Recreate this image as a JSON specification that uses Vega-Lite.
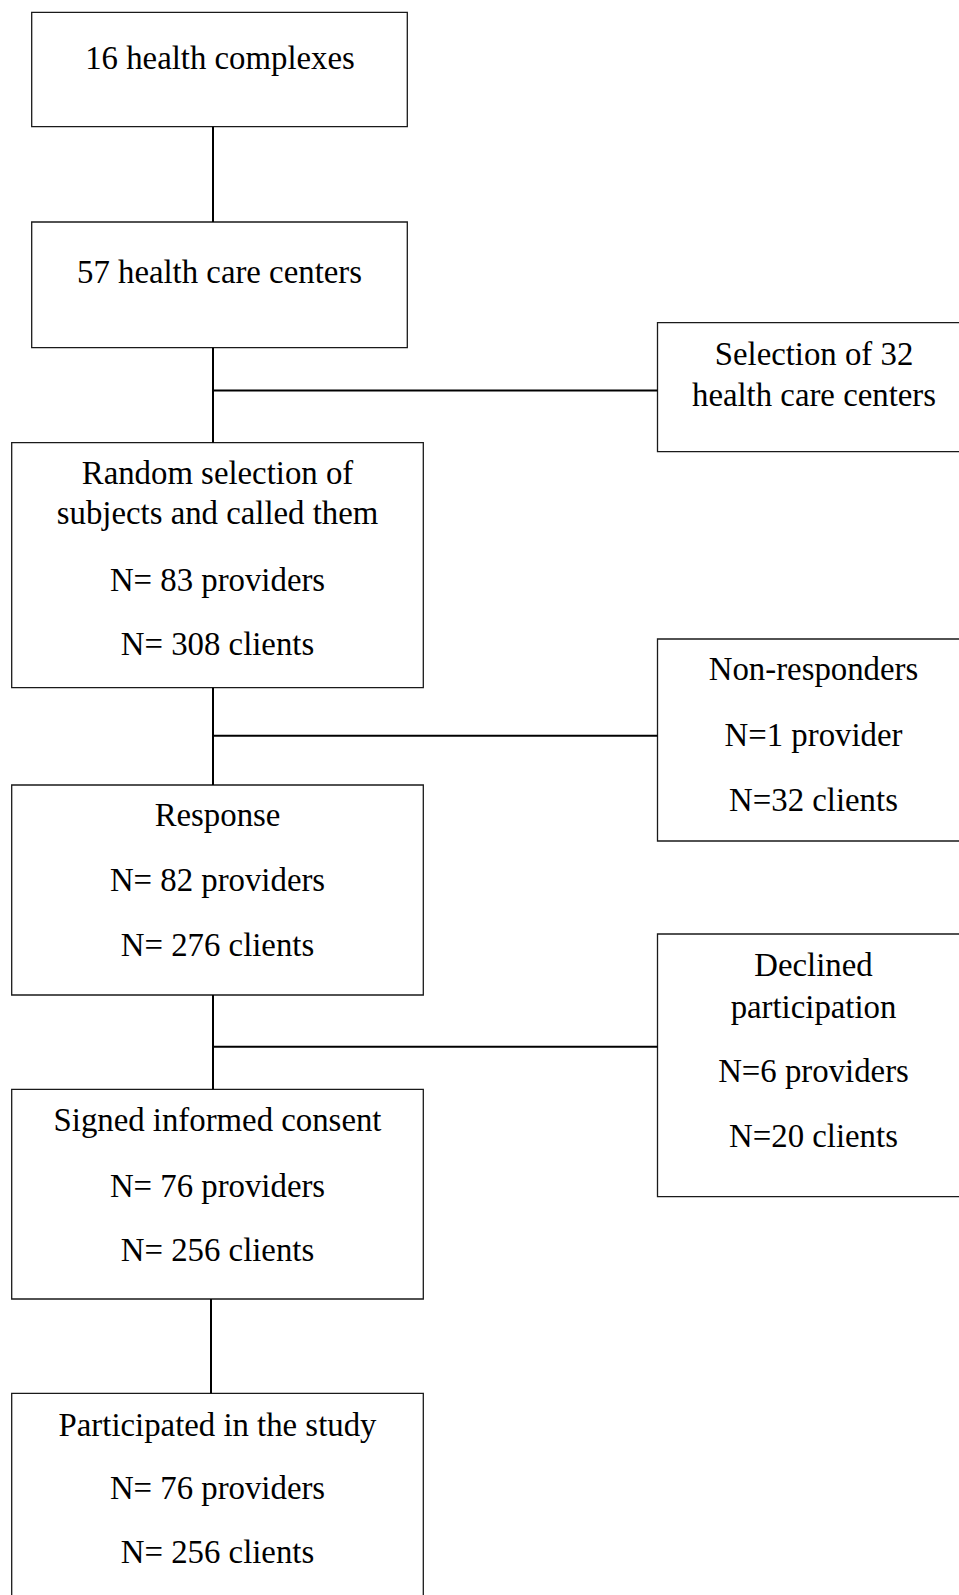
{
  "$schema": "https://vega.github.io/schema/vega-lite/v6.json",
  "width": 959,
  "height": 1595,
  "padding": 0,
  "autosize": {"type": "fit", "contains": "padding"},
  "background": "white",
  "config": {"view": {"stroke": null}},
  "datasets": {
    "boxes": [
      {"id": "b1", "x": 31.7, "x2": 407.3, "y": 12.3, "y2": 126.7},
      {"id": "b2", "x": 31.7, "x2": 407.3, "y": 222, "y2": 347.7},
      {"id": "b3", "x": 11.7, "x2": 423.3, "y": 442.7, "y2": 687.7},
      {"id": "b4", "x": 11.7, "x2": 423.3, "y": 785, "y2": 995},
      {"id": "b5", "x": 11.7, "x2": 423.3, "y": 1089.3, "y2": 1299},
      {"id": "b6", "x": 11.7, "x2": 423.3, "y": 1393.3, "y2": 1640},
      {"id": "sA", "x": 657.5, "x2": 990, "y": 322.7, "y2": 451.7},
      {"id": "sB", "x": 657.5, "x2": 990, "y": 639, "y2": 841},
      {"id": "sC", "x": 657.5, "x2": 990, "y": 934, "y2": 1196.7}
    ],
    "lines": [
      {"id": "v1", "x": 213, "x2": 213, "y": 126.7, "y2": 222},
      {"id": "v2", "x": 213, "x2": 213, "y": 347.7, "y2": 442.7},
      {"id": "h1", "x": 213, "x2": 657.5, "y": 390.5, "y2": 390.5},
      {"id": "v3", "x": 213, "x2": 213, "y": 687.7, "y2": 785},
      {"id": "h2", "x": 213, "x2": 657.5, "y": 735.7, "y2": 735.7},
      {"id": "v4", "x": 213, "x2": 213, "y": 995, "y2": 1089.3},
      {"id": "h3", "x": 213, "x2": 657.5, "y": 1046.7, "y2": 1046.7},
      {"id": "v5", "x": 211, "x2": 211, "y": 1299, "y2": 1393.3}
    ],
    "labels": [
      {"x": 220, "y": 69.3, "text": "16 health complexes"},
      {"x": 219.5, "y": 282.7, "text": "57 health care centers"},
      {"x": 814, "y": 365, "text": "Selection of 32"},
      {"x": 814, "y": 406, "text": "health care centers"},
      {"x": 217.5, "y": 484.3, "text": "Random selection of"},
      {"x": 217.5, "y": 524.3, "text": "subjects and called them"},
      {"x": 217.5, "y": 590.7, "text": "N= 83 providers"},
      {"x": 217.5, "y": 655, "text": "N= 308 clients"},
      {"x": 813.5, "y": 680, "text": "Non-responders"},
      {"x": 813.5, "y": 746, "text": "N=1 provider"},
      {"x": 813.5, "y": 810.7, "text": "N=32 clients"},
      {"x": 217.5, "y": 825.7, "text": "Response"},
      {"x": 217.5, "y": 890.7, "text": "N= 82 providers"},
      {"x": 217.5, "y": 956, "text": "N= 276 clients"},
      {"x": 813.5, "y": 976, "text": "Declined"},
      {"x": 813.5, "y": 1018, "text": "participation"},
      {"x": 813.5, "y": 1082, "text": "N=6 providers"},
      {"x": 813.5, "y": 1147, "text": "N=20 clients"},
      {"x": 217.5, "y": 1130.7, "text": "Signed informed consent"},
      {"x": 217.5, "y": 1196.7, "text": "N= 76 providers"},
      {"x": 217.5, "y": 1261, "text": "N= 256 clients"},
      {"x": 217.5, "y": 1436, "text": "Participated in the study"},
      {"x": 217.5, "y": 1499.3, "text": "N= 76 providers"},
      {"x": 217.5, "y": 1563.3, "text": "N= 256 clients"}
    ]
  },
  "layer": [
    {
      "data": {"name": "boxes"},
      "mark": {"type": "rect", "fill": "white", "stroke": "#1a1a1a", "strokeWidth": 1.3, "clip": true},
      "encoding": {
        "x": {"field": "x", "type": "quantitative", "scale": {"domain": [0, 959], "nice": false, "zero": false}, "axis": null},
        "x2": {"field": "x2"},
        "y": {"field": "y", "type": "quantitative", "scale": {"domain": [0, 1595], "nice": false, "zero": false, "reverse": true}, "axis": null},
        "y2": {"field": "y2"}
      }
    },
    {
      "data": {"name": "lines"},
      "mark": {"type": "rule", "color": "black", "strokeWidth": 2},
      "encoding": {
        "x": {"field": "x", "type": "quantitative", "scale": {"domain": [0, 959], "nice": false, "zero": false}, "axis": null},
        "x2": {"field": "x2"},
        "y": {"field": "y", "type": "quantitative", "scale": {"domain": [0, 1595], "nice": false, "zero": false, "reverse": true}, "axis": null},
        "y2": {"field": "y2"}
      }
    },
    {
      "data": {"name": "labels"},
      "mark": {"type": "text", "font": "Liberation Serif", "fontSize": 32.8, "color": "black", "align": "center", "baseline": "alphabetic"},
      "encoding": {
        "x": {"field": "x", "type": "quantitative", "scale": {"domain": [0, 959], "nice": false, "zero": false}, "axis": null},
        "y": {"field": "y", "type": "quantitative", "scale": {"domain": [0, 1595], "nice": false, "zero": false, "reverse": true}, "axis": null},
        "text": {"field": "text", "type": "nominal"}
      }
    }
  ]
}
